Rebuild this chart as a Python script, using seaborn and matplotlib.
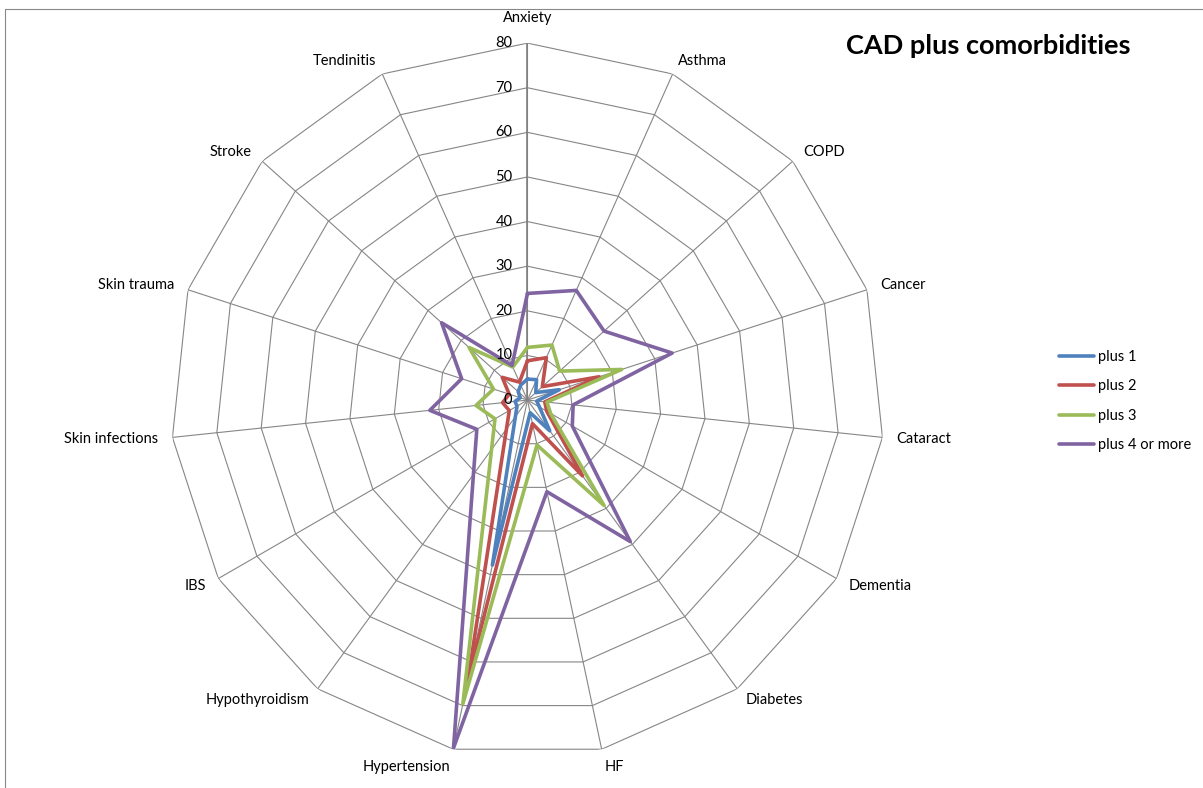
import numpy as np
import pandas as pd
import matplotlib
matplotlib.use("Agg")
import matplotlib.pyplot as plt
import matplotlib.transforms as mtransforms
from matplotlib.lines import Line2D
import seaborn as sns

# data
categories = ["Anxiety", "Asthma", "COPD", "Cancer", "Cataract", "Dementia", "Diabetes", "HF",
              "Hypertension", "Hypothyroidism", "IBS", "Skin infections", "Skin trauma", "Stroke", "Tendinitis"]
plus1 = [4.7, 5.0, 2.5, 7.5, 2.1, 3.1, 8.5, 2.9, 37.8, 4.6, 2.7, 2.8, 1.7, 2.8, 3.7]
plus2 = [8.8, 10.4, 4.5, 16.9, 3.9, 5.0, 21.0, 5.4, 64.1, 8.0, 4.7, 5.6, 4.3, 7.6, 4.4]
plus3 = [11.8, 13.5, 9.7, 22.2, 4.4, 6.0, 29.2, 10.3, 69.6, 13.7, 8.4, 11.6, 8.0, 17.6, 8.1]
plus4 = [23.9, 26.9, 23.1, 34.1, 10.3, 11.6, 39.2, 21.0, 79.7, 20.6, 13.1, 22.0, 15.5, 25.9, 8.5]
series_names = ["plus 1", "plus 2", "plus 3", "plus 4 or more"]
colors = ["#4F81BD", "#C0504D", "#9BBB59", "#8064A2"]
ring_levels = [0, 10, 20, 30, 40, 50, 60, 70, 80]

n = len(categories)
theta = 2 * np.pi * np.arange(n) / n

# long table, each polygon closed by repeating the first point
rows = []
for name, vals in zip(series_names, [plus1, plus2, plus3, plus4]):
    for i in range(n + 1):
        rows.append({"series": name, "angle": 2 * np.pi * i / n, "value": vals[i % n]})
df = pd.DataFrame(rows)

sns.set_theme(style="white")
plt.rcParams['font.family'] = ['Lato', 'DejaVu Sans']
plt.rcParams['text.color'] = 'black'

fig = plt.figure(figsize=(12.03, 7.88), dpi=100)
ax = fig.add_axes([0.1417, 0.0393, 0.5935, 0.906], projection='polar')
ax.set_theta_zero_location('N')
ax.set_theta_direction(-1)
ax.grid(False)
ax.spines['polar'].set_visible(False)
ax.set_xticks([])
ax.set_yticks([])

grid_col = "#868686"
# polygon web
for lvl in ring_levels[1:]:
    ax.plot(np.append(theta, theta[0]), [lvl] * (n + 1), color=grid_col, lw=0.8, zorder=1)
for t in theta:
    ax.plot([t, t], [0, 80], color=grid_col, lw=0.8, zorder=1)
ax.plot([0, 0], [0, 80], color="#808080", lw=1.2, zorder=1)

sns.lineplot(data=df, x="angle", y="value", hue="series", hue_order=series_names,
             palette=colors, sort=False, estimator=None, linewidth=2.6, ax=ax, zorder=3)
ax.set_xlabel("")
ax.set_ylabel("")
ax.set_ylim(0, 80)

# radial value labels
lab_trans = mtransforms.offset_copy(ax.transData, fig=fig, x=-15, y=0, units='dots')
for lvl in ring_levels:
    ax.text(0, lvl, str(lvl), transform=lab_trans, ha='right', va='center', fontsize=10.5,
            color='black', zorder=4)

# category labels
for t, cat in zip(theta, categories):
    s, c = np.sin(t), np.cos(t)
    off = 14
    if cat == "Anxiety":
        dx, dy, ha, va = 0, 25, 'center', 'center'
    elif cat in ("Hypertension", "HF"):
        dx, dy = off * s, -18
        ha, va = ('right' if s < 0 else 'left'), 'center'
    else:
        dx, dy = off * s, off * c
        ha = 'left' if s > 0.1 else ('right' if s < -0.1 else 'center')
        va = 'center'
    tr = mtransforms.offset_copy(ax.transData, fig=fig, x=dx, y=dy, units='dots')
    ax.text(t, 80, cat, transform=tr, ha=ha, va=va, fontsize=10.5, color='black')

handles, labels = ax.get_legend_handles_labels()
if ax.get_legend() is not None:
    ax.get_legend().remove()
leg = fig.legend(handles, labels, loc='center left', bbox_to_anchor=(1046 / 1203, 1 - 401 / 788),
                 frameon=False, fontsize=10.5, handlelength=2.4, handletextpad=0.3, labelspacing=1.05)
for txt in leg.get_texts():
    txt.set_color('black')

fig.text(988 / 1203, 1 - 46 / 788, "CAD plus comorbidities", ha='center', va='center',
         fontsize=19.5, fontweight='bold', color='black')

# chart area border (left and top edges visible)
fig.add_artist(Line2D([5 / 1203, 5 / 1203], [0, 1 - 9 / 788], color="#888888", lw=0.8))
fig.add_artist(Line2D([5 / 1203, 1], [1 - 9 / 788, 1 - 9 / 788], color="#888888", lw=0.8))

fig.savefig("out.png", dpi=100)
